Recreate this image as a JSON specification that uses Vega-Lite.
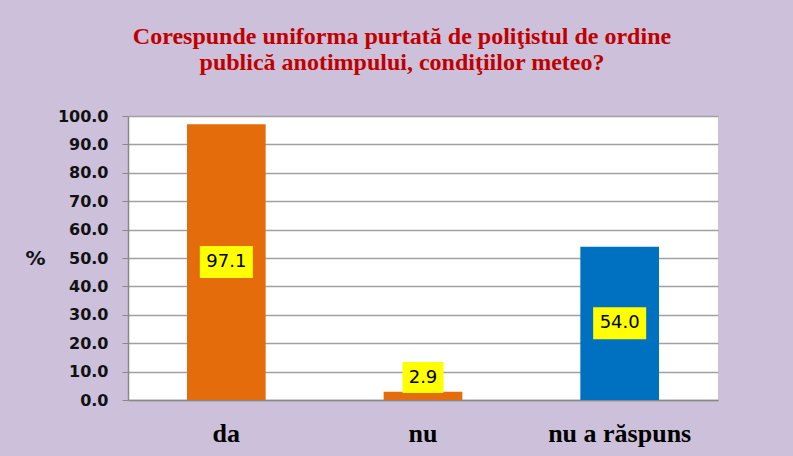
{
  "$schema": "https://vega.github.io/schema/vega-lite/v6.json",
  "autosize": "none",
  "width": 590,
  "height": 284,
  "padding": {"left": 128, "top": 116, "right": 75, "bottom": 56},
  "background": "#CCC0DA",
  "title": {
    "text": ["Corespunde uniforma purtată de poliţistul de ordine", "publică anotimpului, condiţiilor meteo?"],
    "font": "Liberation Serif",
    "fontSize": 24,
    "fontWeight": "bold",
    "color": "#C00000",
    "lineHeight": 26,
    "anchor": "middle",
    "dx": -21,
    "offset": 33
  },
  "data": {
    "values": [
      {"cat": "da", "value": 97.1, "color": "orange"},
      {"cat": "nu", "value": 2.9, "color": "orange"},
      {"cat": "nu a răspuns", "value": 54.0, "color": "blue"}
    ]
  },
  "transform": [
    {"calculate": "datum.value < 10 ? datum.value + 5 : datum.value / 2", "as": "labelPos"}
  ],
  "encoding": {
    "x": {
      "field": "cat",
      "type": "nominal",
      "sort": null,
      "scale": {"paddingInner": 0.6, "paddingOuter": 0.3},
      "axis": {
        "title": null,
        "labelAngle": 0,
        "labelFont": "Liberation Serif",
        "labelFontSize": 26,
        "labelFontWeight": "bold",
        "labelColor": "#000000",
        "labelPadding": 20,
        "ticks": false,
        "domainColor": "#888888",
        "domainWidth": 1.5
      }
    }
  },
  "layer": [
    {
      "mark": {"type": "bar"},
      "encoding": {
        "y": {
          "field": "value",
          "type": "quantitative",
          "scale": {"domain": [0, 100]},
          "axis": {"values": [0, 10, 20, 30, 40, 50, 60, 70, 80, 90, 100], "title": "%"}
        },
        "color": {
          "field": "color",
          "type": "nominal",
          "scale": {"domain": ["orange", "blue"], "range": ["#E46C0A", "#0070C0"]},
          "legend": null
        }
      }
    },
    {
      "mark": {"type": "point", "filled": true, "opacity": 1, "color": "#FFFF00", "strokeWidth": 0},
      "encoding": {
        "y": {
          "field": "labelPos",
          "type": "quantitative",
          "axis": {"values": [0, 10, 20, 30, 40, 50, 60, 70, 80, 90, 100], "title": "%"}
        },
        "shape": {
          "condition": {"test": "datum.value < 10", "value": "M-1,-0.756H1V0.756H-1Z"},
          "value": "M-1,-0.604H1V0.604H-1Z"
        },
        "size": {
          "condition": {"test": "datum.value < 10", "value": 1681},
          "value": 2809
        }
      }
    },
    {
      "mark": {"type": "text", "font": "DejaVu Sans", "fontSize": 18, "color": "#000000", "baseline": "middle", "align": "center"},
      "encoding": {
        "y": {
          "field": "labelPos",
          "type": "quantitative",
          "axis": {"values": [0, 10, 20, 30, 40, 50, 60, 70, 80, 90, 100], "title": "%"}
        },
        "text": {"field": "value", "type": "quantitative", "format": ".1f"}
      }
    }
  ],
  "config": {
    "view": {"fill": "#FFFFFF", "stroke": null},
    "axisY": {
      "format": ".1f",
      "labelOverlap": false,
      "labelFont": "DejaVu Sans",
      "labelFontSize": 16,
      "labelFontWeight": "bold",
      "labelColor": "#111111",
      "labelPadding": 14,
      "tickSize": 6,
      "tickColor": "#888888",
      "domainColor": "#888888",
      "domainWidth": 1.5,
      "gridColor": "#A0A0A0",
      "gridWidth": 1.5,
      "titleAngle": 0,
      "titleFont": "DejaVu Sans",
      "titleFontSize": 20,
      "titleFontWeight": "bold",
      "titleColor": "#111111",
      "titleAlign": "center",
      "titleBaseline": "middle",
      "titleX": -93,
      "titleY": 142
    }
  }
}
